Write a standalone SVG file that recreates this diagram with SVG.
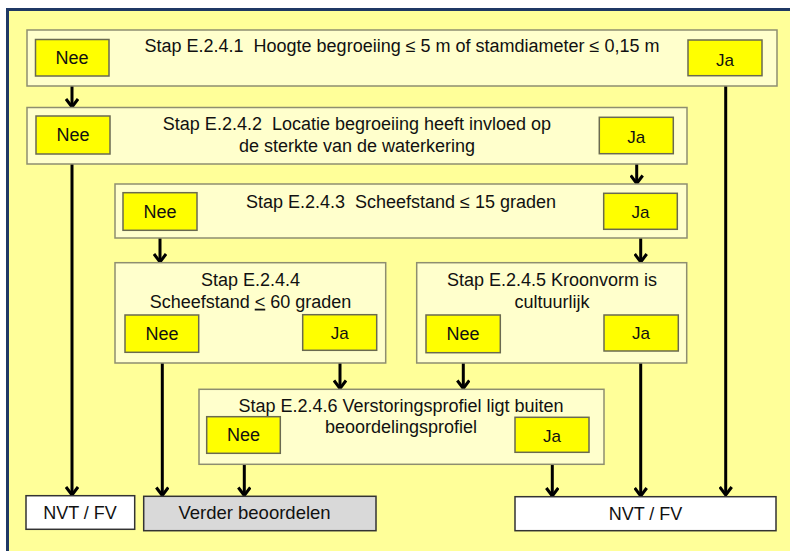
<svg xmlns="http://www.w3.org/2000/svg" width="790" height="551" viewBox="0 0 790 551">
<style>
  text { font-family: "Liberation Sans", Arial, sans-serif; fill: #111; }
  .title { font-size: 18px; text-anchor: middle; white-space: pre; }
  .nee { font-size: 18px; text-anchor: middle; }
  .ja { font-size: 17px; text-anchor: middle; }
  .out { font-size: 18px; text-anchor: middle; }
  .step { fill: #FFFFCC; stroke: #8E8E70; stroke-width: 1.5; }
  .btn { fill: #FFFF00; stroke: #6A6A50; stroke-width: 1.5; }
  .white { fill: #FFFFFF; stroke: #333; stroke-width: 1.5; }
  .grey { fill: #D9D9D9; stroke: #333; stroke-width: 1.5; }
  .conn line { stroke: #000; stroke-width: 3; marker-end: url(#arr); }
</style>
<defs>
  <marker id="arr" viewBox="0 0 12 14" refX="10" refY="7" markerWidth="12" markerHeight="14" markerUnits="userSpaceOnUse" orient="auto">
    <path d="M2,1 L10,7 L2,13" fill="none" stroke="#000" stroke-width="3"/>
  </marker>
</defs>
<rect x="0" y="0" width="790" height="551" fill="#FFFFFF"/>
<rect id="frame" x="7.5" y="9.5" width="790" height="550" fill="#FFFF99" stroke="#1F3864" stroke-width="3"/>

<g id="connectors" class="conn">
  <line x1="72" y1="86" x2="72" y2="107"/>
  <line x1="725.7" y1="86" x2="725.7" y2="495"/>
  <line x1="636.7" y1="164" x2="636.7" y2="183.5"/>
  <line x1="72" y1="164" x2="72" y2="495"/>
  <line x1="160" y1="238" x2="160" y2="262"/>
  <line x1="640.7" y1="238" x2="640.7" y2="262"/>
  <line x1="162.3" y1="363" x2="162.3" y2="495.5"/>
  <line x1="340" y1="363" x2="340" y2="388.5"/>
  <line x1="463.3" y1="363" x2="463.3" y2="388.5"/>
  <line x1="640.7" y1="363" x2="640.7" y2="496"/>
  <line x1="244.3" y1="464" x2="244.3" y2="495.5"/>
  <line x1="552.3" y1="464" x2="552.3" y2="496"/>
</g>

<g id="step1">
  <rect class="step" x="27" y="30" width="750" height="56"/>
  <text class="title" x="402" y="52">Stap E.2.4.1  Hoogte begroeiing ≤ 5 m of stamdiameter ≤ 0,15 m</text>
</g>
<g id="step1-nee">
  <rect class="btn" x="35.5" y="39.5" width="73.5" height="36.5"/>
  <text class="nee" x="72" y="64">Nee</text>
</g>
<g id="step1-ja">
  <rect class="btn" x="688" y="40" width="74" height="35.7"/>
  <text class="ja" x="725" y="65.5">Ja</text>
</g>

<g id="step2">
  <rect class="step" x="27" y="107.5" width="660" height="56.5"/>
  <text class="title" x="357" y="130">Stap E.2.4.2  Locatie begroeiing heeft invloed op</text>
  <text class="title" x="357" y="152">de sterkte van de waterkering</text>
</g>
<g id="step2-nee">
  <rect class="btn" x="36" y="116" width="74" height="38"/>
  <text class="nee" x="73" y="141">Nee</text>
</g>
<g id="step2-ja">
  <rect class="btn" x="599.3" y="117.3" width="74" height="36.4"/>
  <text class="ja" x="636.3" y="142.5">Ja</text>
</g>

<g id="step3">
  <rect class="step" x="115" y="184" width="572" height="54"/>
  <text class="title" x="401" y="207.7">Stap E.2.4.3  Scheefstand ≤ 15 graden</text>
</g>
<g id="step3-nee">
  <rect class="btn" x="123" y="192.7" width="74" height="37.6"/>
  <text class="nee" x="160" y="217.5">Nee</text>
</g>
<g id="step3-ja">
  <rect class="btn" x="603.7" y="193.3" width="73.6" height="36"/>
  <text class="ja" x="640.5" y="218.3">Ja</text>
</g>

<g id="step4">
  <rect class="step" x="115" y="262.7" width="270.7" height="100.3"/>
  <text class="title" x="250.5" y="286">Stap E.2.4.4</text>
  <text class="title" x="250.5" y="307.7">Scheefstand <tspan text-decoration="underline">&lt;</tspan> 60 graden</text>
</g>
<g id="step4-nee">
  <rect class="btn" x="125" y="315" width="73.7" height="37.3"/>
  <text class="nee" x="162" y="339.5">Nee</text>
</g>
<g id="step4-ja">
  <rect class="btn" x="302.7" y="314.7" width="74" height="35.6"/>
  <text class="ja" x="339.7" y="339.3">Ja</text>
</g>

<g id="step5">
  <rect class="step" x="416.7" y="262.7" width="270" height="100.3"/>
  <text class="title" x="552" y="286">Stap E.2.4.5 Kroonvorm is</text>
  <text class="title" x="552" y="307.7">cultuurlijk</text>
</g>
<g id="step5-nee">
  <rect class="btn" x="426" y="315" width="74.3" height="37.7"/>
  <text class="nee" x="463" y="339.5">Nee</text>
</g>
<g id="step5-ja">
  <rect class="btn" x="604" y="315" width="74.3" height="36"/>
  <text class="ja" x="641" y="339.3">Ja</text>
</g>

<g id="step6">
  <rect class="step" x="199" y="389.3" width="405" height="75"/>
  <text class="title" x="401" y="412.3">Stap E.2.4.6 Verstoringsprofiel ligt buiten</text>
  <text class="title" x="401" y="433.3">beoordelingsprofiel</text>
</g>
<g id="step6-nee">
  <rect class="btn" x="206.7" y="416.7" width="73.6" height="36.6"/>
  <text class="nee" x="243.5" y="440.5">Nee</text>
</g>
<g id="step6-ja">
  <rect class="btn" x="515" y="417.3" width="74" height="35"/>
  <text class="ja" x="552" y="441.5">Ja</text>
</g>

<g id="out-nvt-left">
  <rect class="white" x="26" y="495.7" width="108.7" height="33.6"/>
  <text class="out" x="80" y="518.5">NVT / FV</text>
</g>
<g id="out-verder">
  <rect class="grey" x="143.7" y="496.3" width="232.3" height="34.4"/>
  <text class="out" x="254.5" y="518.5" style="font-size:18.5px">Verder beoordelen</text>
</g>
<g id="out-nvt-right">
  <rect class="white" x="515" y="496.7" width="261" height="34"/>
  <text class="out" x="645.5" y="520">NVT / FV</text>
</g>
</svg>
